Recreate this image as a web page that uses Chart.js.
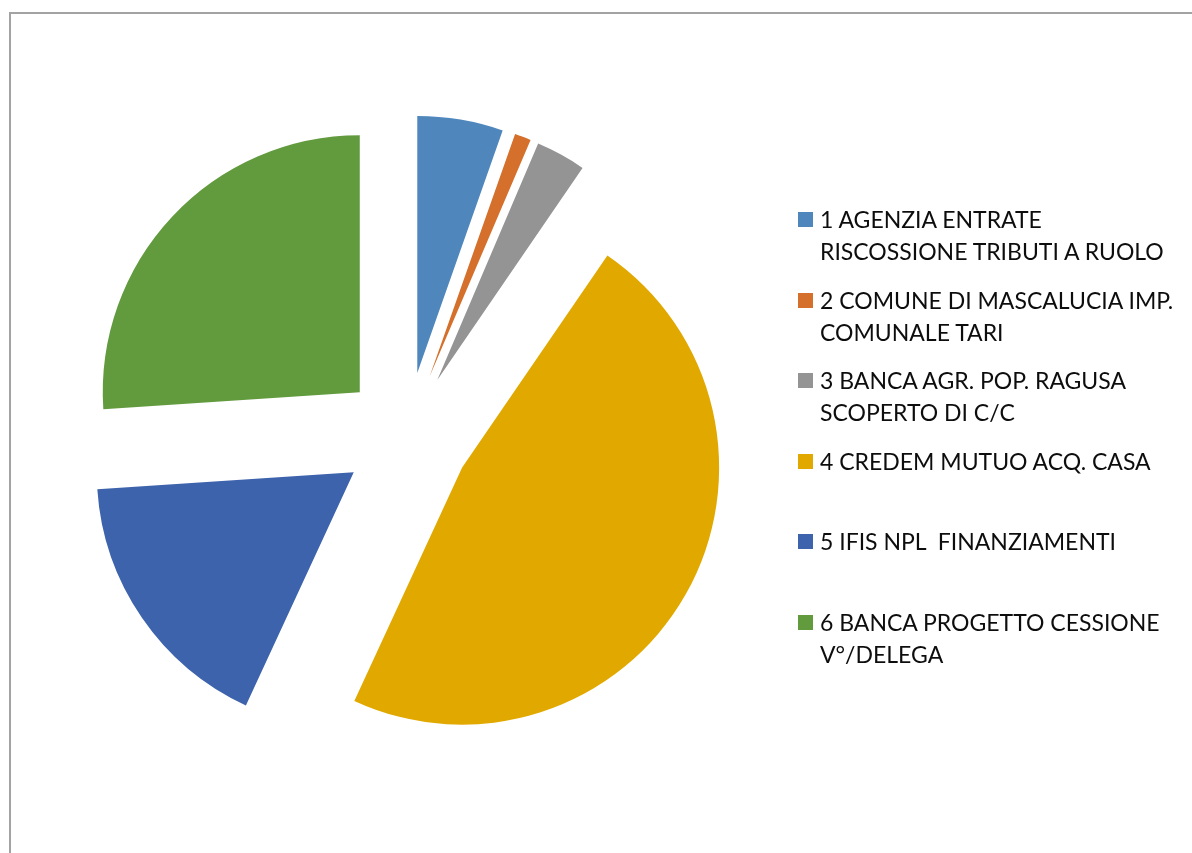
<!DOCTYPE html>
<html>
<head>
<meta charset="utf-8">
<script src="https://cdn.jsdelivr.net/npm/chart.js@4"></script>
<style>
  html, body { margin: 0; padding: 0; background: #fff; }
  #wrap { position: relative; width: 1192px; height: 853px; overflow: hidden; }
  #frame { position: absolute; left: 9px; top: 12px; width: 1300px; height: 1000px;
           border-top: 2px solid #a3a3a3; border-left: 2px solid #a3a3a3; }
  #pie { position: absolute; left: 0; top: 0; }
  #legend { position: absolute; left: 820px; top: 0; font-family: Lato, "Liberation Sans", sans-serif;
            font-size: 23px; line-height: 32px; color: #0d0d0d; }
  .item { position: absolute; left: 0; white-space: pre; }
  .box { position: absolute; left: -22px; top: 9px; width: 15px; height: 15px; }
</style>
</head>
<body>
<div id="wrap">
  <div id="frame"></div>
  <canvas id="pie" width="1192" height="853"></canvas>
  <div id="legend"></div>
</div>
<script>
const categories = [
  ['1 AGENZIA ENTRATE', 'RISCOSSIONE TRIBUTI A RUOLO'],
  ['2 COMUNE DI MASCALUCIA IMP.', 'COMUNALE TARI'],
  ['3 BANCA AGR. POP. RAGUSA', 'SCOPERTO DI C/C'],
  ['4 CREDEM MUTUO ACQ. CASA'],
  ['5 IFIS NPL  FINANZIAMENTI'],
  ['6 BANCA PROGETTO CESSIONE', 'V°/DELEGA']
];
const amounts = [10780, 2060, 6280, 94670, 34110, 52110];
const colors = ['#4f87bd', '#d4702b', '#949494', '#e1a900', '#3d63ac', '#629a3e'];

const RADIUS = 257;
const EXPLODE = 64; // px each slice is pulled out from the centre

// chart.js "offset" also trims the arcs, so explode the slices here instead
const explode = {
  id: 'explode',
  afterDatasetUpdate(chart, args) {
    args.meta.data.forEach(function (arc) {
      const mid = (arc.startAngle + arc.endAngle) / 2;
      arc.x += Math.cos(mid) * EXPLODE;
      arc.y += Math.sin(mid) * EXPLODE;
    });
  }
};

new Chart(document.getElementById('pie'), {
  type: 'pie',
  data: {
    labels: categories,
    datasets: [{
      data: amounts,
      backgroundColor: colors,
      borderWidth: 0
    }]
  },
  options: {
    responsive: false,
    animation: false,
    radius: RADIUS,
    layout: { padding: { left: 0, right: 379, top: 19, bottom: 0 } },
    plugins: {
      legend: { display: false },
      tooltip: { enabled: false }
    }
  },
  plugins: [explode]
});

// legend on the right, text wrapped like the original
const legend = document.getElementById('legend');
categories.forEach(function (lines, i) {
  const item = document.createElement('div');
  item.className = 'item';
  item.style.top = (203 + i * 80.5) + 'px';
  const box = document.createElement('span');
  box.className = 'box';
  box.style.background = colors[i];
  item.appendChild(box);
  item.appendChild(document.createTextNode(lines.join('\n')));
  legend.appendChild(item);
});
</script>
</body>
</html>
